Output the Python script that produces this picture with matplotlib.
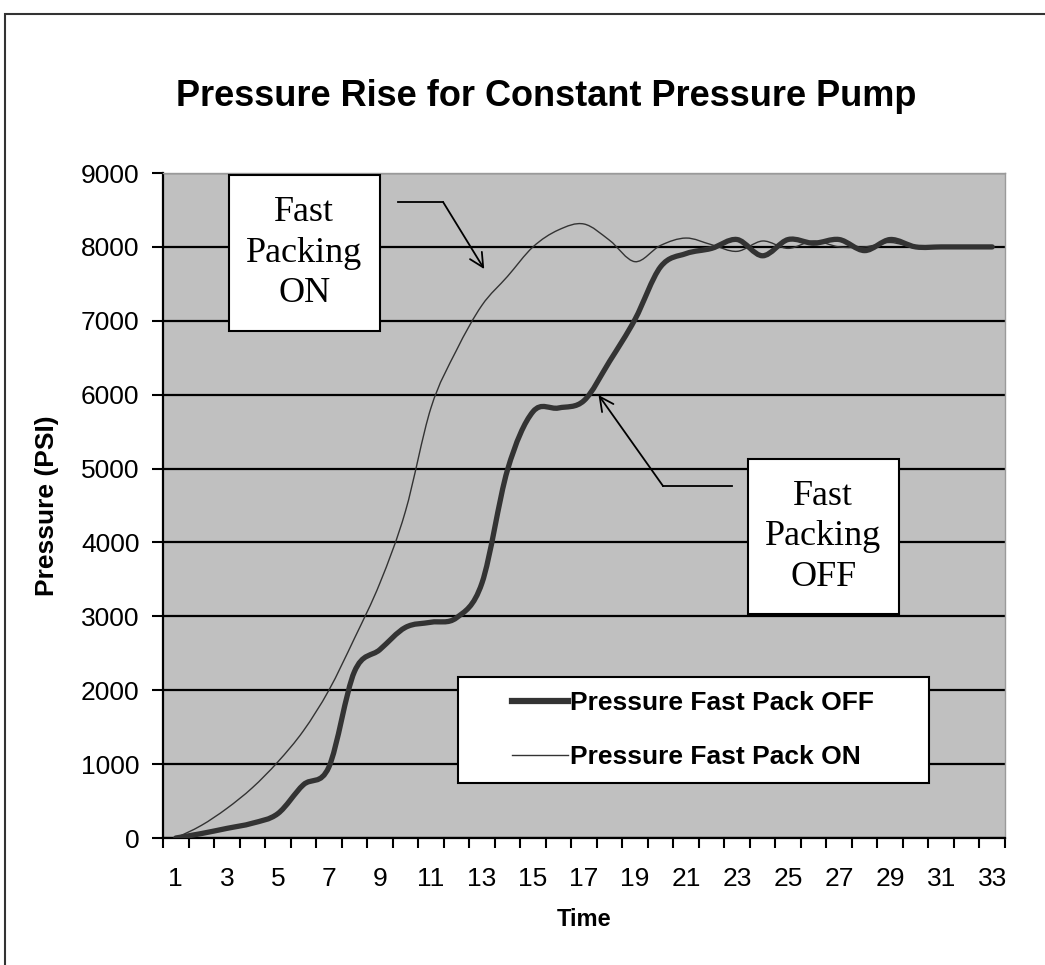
import matplotlib
matplotlib.use("Agg")
import matplotlib.pyplot as plt
import numpy as np
from matplotlib.path import Path
from matplotlib.patches import PathPatch, Rectangle
from matplotlib.lines import Line2D

time = list(range(1, 34))
pressure_off = [0, 60, 130, 200, 330, 720, 960, 2250, 2550, 2850, 2920, 2980, 3450, 4980, 5770,
                5820, 5920, 6450, 7020, 7730, 7910, 7980, 8100, 7880, 8100, 8050, 8100, 7950, 8100,
                8000, 8000, 8000, 8000]
pressure_on = [0, 170, 400, 680, 1030, 1450, 2000, 2700, 3450, 4420, 5820, 6600, 7210, 7600, 8000,
               8230, 8310, 8090, 7800, 8020, 8120, 8030, 7940, 8080, 7980, 8080, 8000, 8000, 8060,
               7990, 8000, 8000, 8000]
series_names = ["Pressure Fast Pack OFF", "Pressure Fast Pack ON"]
y_ticks = list(range(0, 9001, 1000))
x_labels = list(range(1, 34, 2))

sans = ["Liberation Sans", "DejaVu Sans"]
serif = ["Liberation Serif", "DejaVu Serif"]


def smooth_path(xs, ys):
    # excel-style smoothed line: cubic bezier through every point
    n = len(xs)
    verts = [(xs[0], ys[0])]
    codes = [Path.MOVETO]
    for i in range(n - 1):
        a = i - 1 if i > 0 else i
        d = i + 2 if i + 2 < n else i + 1
        c1 = (xs[i] + (xs[i + 1] - xs[a]) / 6, ys[i] + (ys[i + 1] - ys[a]) / 6)
        c2 = (xs[i + 1] - (xs[d] - xs[i]) / 6, ys[i + 1] - (ys[d] - ys[i]) / 6)
        verts += [c1, c2, (xs[i + 1], ys[i + 1])]
        codes += [Path.CURVE4] * 3
    return Path(verts, codes)


fig = plt.figure(figsize=(10.45, 9.65), dpi=100)
ax = fig.add_axes([0.156, 0.1316, 0.8057, 0.6891])
ax.set_facecolor("#c0c0c0")

fig.patches.append(Rectangle((0.0048, -0.05), 1.1, 0.9855 + 0.05, transform=fig.transFigure,
                             fill=False, edgecolor="#333333", linewidth=1.5))

ax.add_patch(PathPatch(smooth_path(time, pressure_off), fill=False, edgecolor="#333333",
                       linewidth=3.8, zorder=4, capstyle="round", joinstyle="round"))
ax.add_patch(PathPatch(smooth_path(time, pressure_on), fill=False, edgecolor="#333333",
                       linewidth=1.0, zorder=4))

ax.set_xlim(0.5, 33.5)
ax.set_ylim(0, 9000)
ax.set_yticks(y_ticks)
ax.set_yticklabels([str(v) for v in y_ticks], family=sans, fontsize=19)
ax.set_xticks(np.arange(0.5, 34, 1))
ax.set_xticklabels([])
ax.set_xticks(x_labels, minor=True)
ax.set_xticklabels([str(v) for v in x_labels], minor=True, family=sans, fontsize=19)
ax.tick_params(axis="x", which="major", direction="out", length=7, width=1.5, color="black")
ax.tick_params(axis="x", which="minor", length=0, pad=21)
ax.tick_params(axis="y", direction="out", length=8, width=1.5, pad=9)

ax.yaxis.grid(True, color="black", linewidth=1.6)
ax.set_axisbelow(True)
for s in ["left", "bottom"]:
    ax.spines[s].set_linewidth(1.6)
    ax.spines[s].set_color("black")
for s in ["top", "right"]:
    ax.spines[s].set_linewidth(1.0)
    ax.spines[s].set_color("#9a9a9a")

fig.text(0.523, 0.9, "Pressure Rise for Constant Pressure Pump", ha="center", va="center",
         family=sans, fontsize=26, fontweight="bold")
ax.set_ylabel("Pressure (PSI)", family=sans, fontsize=19, fontweight="bold", labelpad=16)
ax.set_xlabel("Time", family=sans, fontsize=17, fontweight="bold", labelpad=12)

# callout boxes
ax.add_patch(Rectangle((0.0784, 0.7624), 0.1793, 0.2346, transform=ax.transAxes,
                       facecolor="white", edgecolor="black", linewidth=1.5, zorder=5))
ax.text(0.168, 0.8797, "Fast\nPacking\nON", transform=ax.transAxes, ha="center", va="center",
        family=serif, fontsize=26, linespacing=1.3, zorder=6)
ax.add_patch(Rectangle((0.6948, 0.3368), 0.1793, 0.2331, transform=ax.transAxes,
                       facecolor="white", edgecolor="black", linewidth=1.5, zorder=5))
ax.text(0.7844, 0.4534, "Fast\nPacking\nOFF", transform=ax.transAxes, ha="center", va="center",
        family=serif, fontsize=26, linespacing=1.3, zorder=6)

# leader arrows
ax.plot([9.72, 11.48], [8606, 8606], color="black", linewidth=1.3, zorder=5)
ax.annotate("", xy=(13.09, 7700), xytext=(11.48, 8606),
            arrowprops=dict(arrowstyle="->", color="black", lw=1.3, mutation_scale=25,
                            shrinkA=0, shrinkB=0), zorder=5)
ax.plot([22.8, 20.1], [4763, 4763], color="black", linewidth=1.3, zorder=5)
ax.annotate("", xy=(17.57, 5995), xytext=(20.1, 4763),
            arrowprops=dict(arrowstyle="->", color="black", lw=1.3, mutation_scale=25,
                            shrinkA=0, shrinkB=0), zorder=5)

# legend frame drawn separately so the entries can sit centred in it
ax.add_patch(Rectangle((0.350, 0.0827), 0.5594, 0.159, transform=ax.transAxes,
                       facecolor="white", edgecolor="black", linewidth=1.5, zorder=6))
handles = [Line2D([], [], color="#333333", linewidth=4.5),
           Line2D([], [], color="#333333", linewidth=1.0)]
leg = ax.legend(handles, series_names, loc="center", bbox_to_anchor=(0.630, 0.1624),
                frameon=False, prop=dict(family=sans, size=19, weight="bold"),
                handlelength=2.1, handletextpad=0.1, labelspacing=1.15, borderpad=0)
leg.set_zorder(7)

fig.savefig("out.png", dpi=100, facecolor="white")
